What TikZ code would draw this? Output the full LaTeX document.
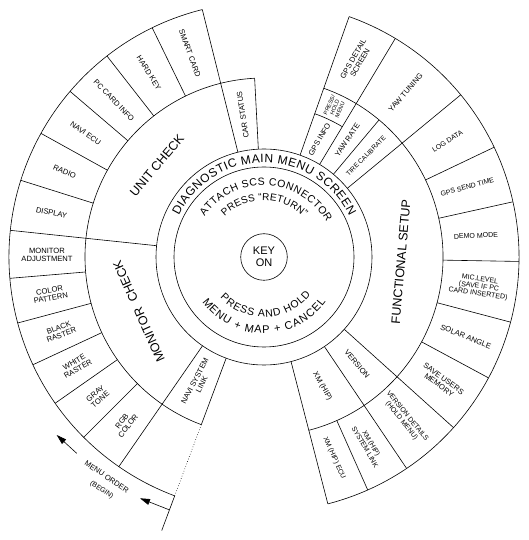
\documentclass[tikz,border=0pt]{standalone}
\usepackage{fontspec}
\setmainfont{Liberation Sans}
\usetikzlibrary{decorations.text,arrows.meta}
\begin{document}
\begin{tikzpicture}[x=1pt,y=1pt,line width=0.6pt,
  lbl/.style={font=\fontsize{7.6}{7.8}\selectfont,align=center,inner sep=0pt},
  sml/.style={lbl,font=\fontsize{7}{7.3}\selectfont},
  tiny/.style={font=\fontsize{5.6}{5.8}\selectfont,align=center,inner sep=0pt},
  big/.style={font=\fontsize{12.5}{14}\selectfont,inner sep=0pt},
  arr/.style={-{Triangle[length=10pt,width=6pt]}},
  curved/.style={decorate,decoration={text along path,text align=fit to path,text={#1}}}]
\useasboundingbox (-264,-283) rectangle (264,257);
% circles
\node[circle,draw,minimum size=46.6pt,inner sep=0pt,align=center,
      font=\fontsize{11}{11.5}\selectfont] (key) at (0,0) {KEY\\ON};
\draw (0,0) circle[radius=90pt];
\draw (0,0) circle[radius=108pt];
% arcs
\draw (93:179) arc[start angle=93,end angle=249.5,radius=179pt];
\draw (104:255) arc[start angle=104,end angle=249.5,radius=255pt];
\draw (-75.5:179) arc[start angle=-75.5,end angle=70.5,radius=179pt];
\draw (-75.5:255) arc[start angle=-75.5,end angle=70.5,radius=255pt];
\draw (59:152) arc[start angle=59,end angle=70.5,radius=152pt];
% radial lines
\foreach \a in {93,50} \draw (\a:108) -- (\a:179);
\foreach \a in {104,174,235.3,-75.5,-56,-42,39.5,59,70.5} \draw (\a:108) -- (\a:255);
\foreach \a in {116,128,139.5,151,162.5,184.8,195,205,215,225,-66,-28.3,-14.8,-1,12.5,25.5}
  \draw (\a:179) -- (\a:255);
\draw (249.5:108) -- (249.5:179);
\draw[dotted] (249.5:179) -- (249.5:255);
\draw (249.5:255) -- (249.5:292);
% curved centre texts
\path[curved={|\fontsize{12}{12}\selectfont|DIAGNOSTIC MAIN MENU SCREEN}]
  (154:94.5) arc[start angle=154,end angle=25.5,radius=94.5pt];
\path[curved={|\fontsize{10.5}{10.5}\selectfont|ATTACH SCS CONNECTOR}]
  (146:71.5) arc[start angle=146,end angle=29,radius=71.5pt];
\path[curved={|\fontsize{10}{10}\selectfont|PRESS “RETURN”}]
  (134:56.5) arc[start angle=134,end angle=45,radius=56.5pt];
\path[curved={|\fontsize{10.5}{10.5}\selectfont|PRESS AND HOLD}]
  (223:60) arc[start angle=223,end angle=321,radius=60pt];
\path[curved={|\fontsize{11}{11}\selectfont|MENU + MAP + CANCEL}]
  (216:76.5) arc[start angle=216,end angle=324,radius=76.5pt];
% level 1 big labels
\node[big,rotate=50] (unit) at (139.4:141) {UNIT CHECK};
\node[big,rotate=114] (monchk) at (203.6:136.5) {MONITOR\ \ CHECK};
\node[big,rotate=85] (func) at (-2:137) {FUNCTIONAL SETUP};
% level 1 small labels
\node[lbl,rotate=98.5] (car) at (98.5:143.5) {CAR STATUS};
\node[lbl,rotate=62.4] (navisys) at (242.4:142) {NAVI SYSTEM\\LINK};
\node[lbl,rotate=60] (gpsinfo) at (64.75:130) {GPS INFO};
\node[tiny,rotate=66] (presshold) at (64.75:165.5) {PRESS/\\HOLD\\MENU};
\node[lbl,rotate=56] (yawrate) at (54.5:143.5) {YAW RATE};
\node[lbl,rotate=45,font=\fontsize{6.6}{7}\selectfont] (tire) at (44.75:143.5) {TIRE CALIBRATE};
\node[lbl,rotate=-50] (version) at (-49:142) {VERSION};
\node[lbl,rotate=-60] (xmhip) at (-65.75:142) {XM (HIP)};
% level 2 labels, left
\node[lbl,rotate=-70] (smart) at (110:217) {SMART CARD};
\node[lbl,rotate=-58] (hard) at (122:217) {HARD KEY};
\node[lbl,rotate=-46] (pccard) at (133.75:217) {PC CARD INFO};
\node[lbl,rotate=-35] (naviecu) at (145.25:217) {NAVI ECU};
\node[lbl,rotate=-23] (radio) at (156.75:217) {RADIO};
\node[lbl,rotate=-12] (display) at (168.25:217) {DISPLAY};
\node[lbl] (monadj) at (179.4:217) {MONITOR\\ADJUSTMENT};
\node[lbl,rotate=10] (color) at (189.9:217) {COLOR\\PATTERN};
\node[lbl,rotate=20] (black) at (200:217) {BLACK\\RASTER};
\node[lbl,rotate=30] (white) at (210:217) {WHITE\\RASTER};
\node[lbl,rotate=40] (gray) at (220:217) {GRAY\\TONE};
\node[lbl,rotate=52] (rgb) at (230.15:217) {RGB\\COLOR};
% level 2 labels, right
\node[lbl,rotate=60] (gpsdet) at (64.75:217) {GPS DETAIL\\SCREEN};
\node[lbl,rotate=49] (yawtun) at (49.25:217) {YAW TUNING};
\node[sml,rotate=32] (log) at (32.25:217) {LOG DATA};
\node[sml,rotate=15] (gpssend) at (19:215) {GPS SEND TIME};
\node[sml,rotate=3] (demo) at (5.75:213) {DEMO MODE};
\node[sml,rotate=-8] (mic) at (-7.9:217) {MIC.LEVEL\\(SAVE IF PC\\CARD INSERTED)};
\node[lbl,rotate=-22] (solar) at (-21.55:217) {SOLAR ANGLE};
\node[lbl,rotate=-36] (save) at (-35.15:217) {SAVE USERS\\MEMORY};
\node[sml,rotate=-51] (verdet) at (-49:214) {VERSION DETAILS\\(HOLD MENU)};
\node[sml,rotate=-60] (xmsys) at (-61:215) {XM (HIP)\\SYSTEM LINK};
\node[sml,rotate=-66] (xmecu) at (-70.75:213) {XM (HIP) ECU};
% menu order
\node[lbl,rotate=-34,font=\fontsize{7.5}{8}\selectfont] (menuorder) at (-157.3,-219.7) {MENU ORDER};
\node[lbl,rotate=-34,font=\fontsize{7}{8}\selectfont] (begin) at (-162.3,-233) {(BEGIN)};
\coordinate (a1s) at (-187.3,-196.3);
\coordinate (a1e) at (-207.3,-178);
\draw[arr] (a1s) -- (a1e);
\coordinate (a2s) at (249.5:270);
\coordinate (a2e) at (-124,-241.3);
\draw[arr] (a2s) -- (a2e);
\end{tikzpicture}
\end{document}
